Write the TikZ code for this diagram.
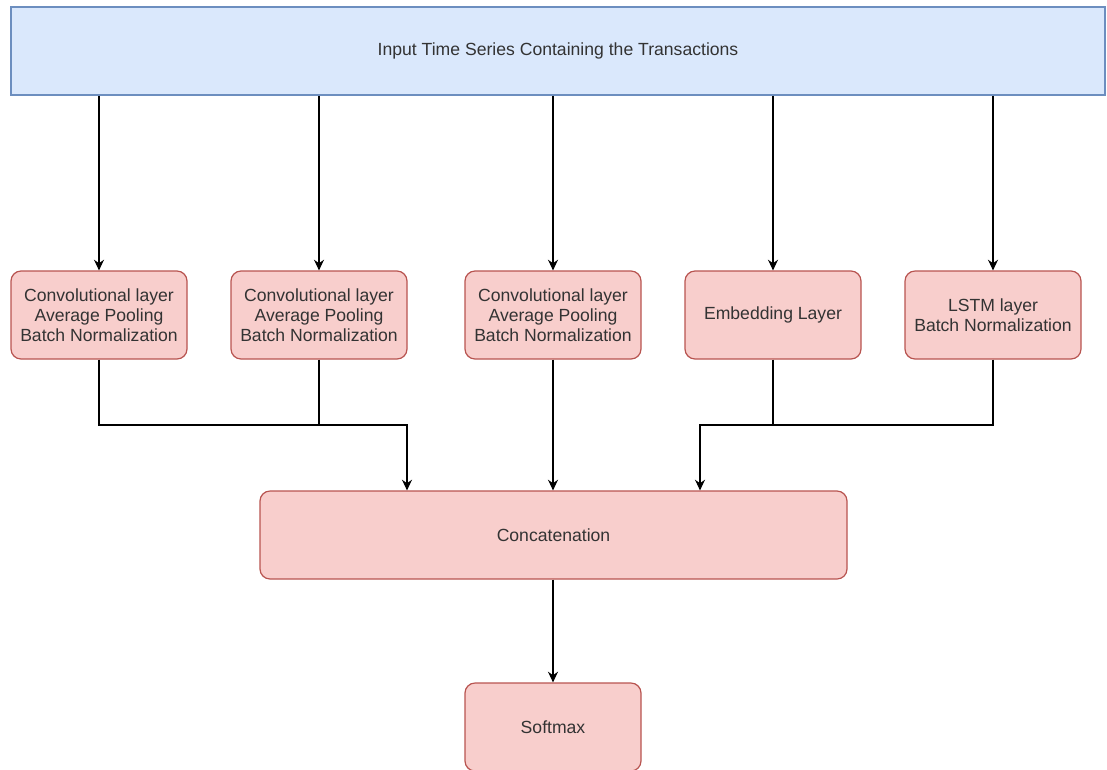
\documentclass[tikz,border=0pt]{standalone}
\usepackage{fontspec}
\setmainfont{Liberation Sans}
\usetikzlibrary{arrows.meta}
\definecolor{bluefill}{HTML}{DAE8FC}
\definecolor{blueline}{HTML}{6C8EBF}
\definecolor{redfill}{HTML}{F8CECC}
\definecolor{redline}{HTML}{B85450}
\definecolor{txt}{HTML}{333333}
\tikzset{
  inbox/.style={draw=blueline, fill=bluefill, line width=0.9pt, minimum width=820.5pt, minimum height=66pt, inner sep=0pt, text=txt, font=\fontsize{13.2}{15}\selectfont},
  layerbox/.style={draw=redline, fill=redfill, line width=0.9pt, rounded corners=7.5pt, minimum width=132pt, minimum height=66pt, inner sep=0pt, align=center, text=txt, font=\fontsize{13.2}{15}\selectfont},
  conn/.style={draw=black, line width=0.8pt},
  arr/.style={conn, -{Stealth[length=8pt,width=7.5pt]}}
}
\begin{document}
\begin{tikzpicture}[x=0.75pt,y=-0.75pt]
\useasboundingbox (0,0) rectangle (1107,769);
\clip (0,0) rectangle (1107,769);
\node[inbox] (top) at (558,51) {Input Time Series Containing the Transactions};
\node[layerbox] (b1) at (99,315) {Convolutional layer\\Average Pooling\\Batch Normalization};
\node[layerbox] (b2) at (319,315) {Convolutional layer\\Average Pooling\\Batch Normalization};
\node[layerbox] (b3) at (553,315) {Convolutional layer\\Average Pooling\\Batch Normalization};
\node[layerbox] (b4) at (773,315) {Embedding Layer};
\node[layerbox] (b5) at (993,315) {LSTM layer\\Batch Normalization};
\node[layerbox, minimum width=440.25pt] (cat) at (553.5,535) {Concatenation};
\node[layerbox] (soft) at (553,727) {Softmax};
\foreach \b in {b1,b2,b3,b4,b5}
  \draw[arr] (\b |- top.south) -- (\b.north);
\coordinate (jl) at (407,425);
\coordinate (jr) at (700,425);
\draw[arr] (b1.south) |- (jl) -- (jl |- cat.north);
\draw[conn] (b2.south) -- (b2 |- jl);
\draw[arr] (b3.south) -- (b3 |- cat.north);
\draw[arr] (b5.south) |- (jr) -- (jr |- cat.north);
\draw[conn] (b4.south) -- (b4 |- jr);
\draw[arr] (b3 |- cat.south) -- (soft.north);
\end{tikzpicture}
\end{document}
